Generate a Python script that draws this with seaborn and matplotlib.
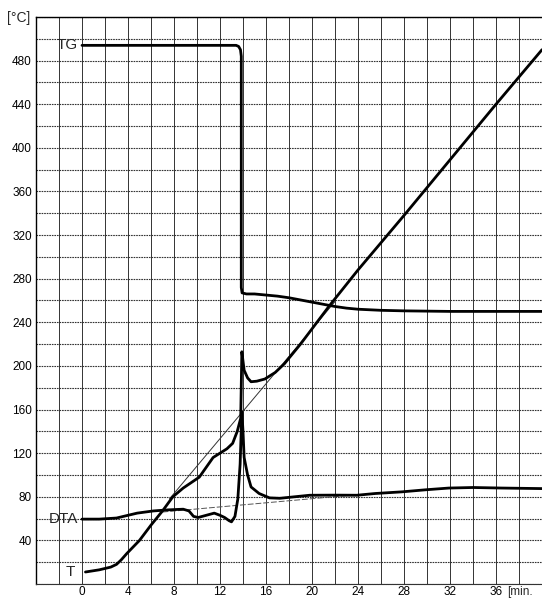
import numpy as np
import pandas as pd
import seaborn as sns
import matplotlib.pyplot as plt


# curve data (x in min, y in deg C)
TG_X = [0, 13.4, 13.62, 13.78, 13.85, 13.85, 13.92, 14.3, 15, 16, 17, 18, 19, 20, 21, 22, 23, 24, 26, 28, 32, 36, 40]
TG_Y = [494, 494, 493, 490, 484, 272, 267, 266, 266, 265, 264, 262.5, 260.5, 258.5, 256.5, 254.5, 253, 252, 251, 250.5, 250, 250, 250]

T_X = [0.3, 1.5, 2.5, 3.0, 3.4, 3.9, 5.0, 6.0, 7.0, 7.9, 8.8, 9.5, 10.2, 10.8, 11.4, 12.0, 12.6, 13.1, 13.5, 13.8, 13.9,
       14.1, 14.4, 14.7, 15.2, 15.9, 16.8, 17.6, 19, 20, 21.5, 24, 28, 32, 36, 40]
T_Y = [11, 13, 15.5, 18, 22, 28, 40, 54, 67, 80, 88, 93, 98, 107, 116, 120, 124, 129, 140, 152, 213,
       196, 189, 185.5, 186, 188, 194, 202, 220, 234, 255, 288, 338, 389, 440, 490]

DTA_X = [0, 1.5, 3.0, 4.0, 4.8, 6.2, 7.5, 8.8, 9.3, 9.7, 10.1, 10.8, 11.5, 12.0, 12.4, 12.8, 13.0, 13.3, 13.55, 13.75, 13.9,
         14.0, 14.1, 14.4, 14.7, 15.4, 16.3, 17.2, 18.5, 19.8, 22, 23.9, 25.5, 27.8, 30, 31.9, 34, 36.5, 40]
DTA_Y = [59.5, 59.5, 60.5, 63, 65, 67, 68, 68.6, 67, 62, 61, 63, 65, 63, 61, 58, 57, 62, 78, 110, 158,
         140, 116, 100, 89, 83, 79, 78.6, 80, 81.4, 81.5, 81.4, 83, 84.5, 86.5, 88, 88.5, 88, 87.5]

# thin construction lines
TANGENT_X = [7.6, 22.0]
TANGENT_Y = [78, 259]
BASE_X = [7.0, 24.0]
BASE_Y = [66, 82]

X_TICKS = [0, 4, 8, 12, 16, 20, 24, 28, 32, 36]
Y_TICKS = [40, 80, 120, 160, 200, 240, 280, 320, 360, 400, 440, 480]


def main():
    sns.set_style('white')
    plt.rcParams['font.family'] = ['Liberation Sans', 'DejaVu Sans']

    fig = plt.figure(figsize=(5.42, 5.98), dpi=100)
    ax = fig.add_axes([36 / 542, 14 / 598, 506 / 542, 567 / 598])

    # grid: vertical solid, horizontal dotted
    for xv in np.arange(-4, 41, 2):
        ax.axvline(xv, color='#333333', lw=0.7, zorder=1)
    for yv in np.arange(0, 521, 20):
        ax.axhline(yv, color='#333333', lw=0.8, ls=(0, (1.5, 0.8)), zorder=1)

    sns.lineplot(x=TANGENT_X, y=TANGENT_Y, ax=ax, color='#333333', lw=0.7, zorder=2)
    sns.lineplot(x=BASE_X, y=BASE_Y, ax=ax, color='#555555', lw=0.7, ls=(0, (6, 2)), zorder=2)

    for xs, ys in [(TG_X, TG_Y), (T_X, T_Y), (DTA_X, DTA_Y)]:
        df = pd.DataFrame({'x': xs, 'y': ys})
        sns.lineplot(data=df, x='x', y='y', ax=ax, sort=False, estimator=None,
                     color='black', lw=2.0, zorder=3)

    ax.set_xlim(-4, 40)
    ax.set_ylim(0, 520)
    ax.set_xticks(X_TICKS)
    ax.set_yticks(Y_TICKS)
    ax.tick_params(axis='both', length=0, labelsize=8.5, colors='black')
    ax.tick_params(axis='x', pad=1.5)
    ax.tick_params(axis='y', pad=3)
    ax.set_xlabel('')
    ax.set_ylabel('')

    for side in ['left', 'top']:
        ax.spines[side].set_color('black')
        ax.spines[side].set_linewidth(1.0)
    ax.spines['right'].set_visible(False)
    ax.spines['bottom'].set_color('#333333')
    ax.spines['bottom'].set_linestyle((0, (1.5, 0.8)))

    # curve labels
    ax.text(-0.4, 494, 'TG', ha='right', va='center', fontsize=11)
    ax.text(-0.35, 60, 'DTA', ha='right', va='center', fontsize=11)
    ax.text(-0.6, 11, 'T', ha='right', va='center', fontsize=11)

    # axis units
    fig.text(19 / 542, 1 - 18 / 598, '[°C]', ha='center', va='center', fontsize=10)
    ax.text(37.0, -1.5, '[min.', ha='left', va='top', fontsize=8.5, clip_on=False)

    fig.savefig('out.png', dpi=100)


if __name__ == '__main__':
    main()
